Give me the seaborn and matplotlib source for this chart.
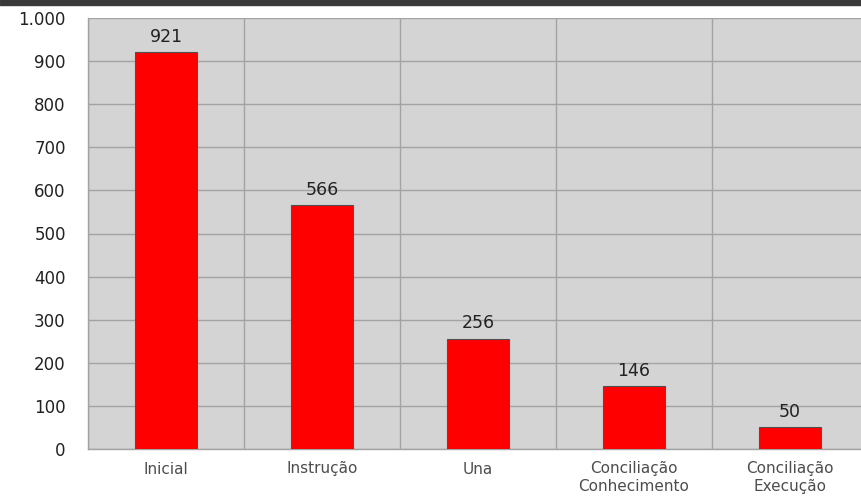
import matplotlib
matplotlib.use("Agg")
import matplotlib.pyplot as plt
import matplotlib.ticker as mticker
import seaborn as sns
import pandas as pd
import numpy as np

categories = ["Inicial", "Instrução", "Una", "Conciliação\nConhecimento", "Conciliação\nExecução"]
values = [921, 566, 256, 146, 50]

df = pd.DataFrame({"fase": categories, "total": values})

sns.set_style("white")
# wide sans face, closer to the stretched lettering of the source
plt.rcParams["font.family"] = ["DejaVu Sans"]

fig = plt.figure(figsize=(8.62, 4.97), dpi=100)
# plot area runs slightly past the right edge, like the source
ax = fig.add_axes([88 / 862, 1 - 449 / 497, 780 / 862, 431 / 497])
ax.set_facecolor("#d4d4d4")

sns.barplot(data=df, x="fase", y="total", color="#ff0000", width=0.4,
            edgecolor="#505050", linewidth=0.8, saturation=1, ax=ax, zorder=3)

ax.set_xlim(-0.5, len(categories) - 0.5)
ax.set_ylim(0, 1000)
ax.yaxis.set_major_locator(mticker.MultipleLocator(100))
ax.yaxis.set_major_formatter(mticker.FuncFormatter(lambda v, p: f"{int(v):,}".replace(",", ".")))

# vertical grid at category boundaries
ax.xaxis.set_minor_locator(mticker.FixedLocator(np.arange(-0.5, len(categories), 1)))
ax.grid(axis="y", which="major", color="#a3a3a3", linewidth=1.0, zorder=0)
ax.grid(axis="x", which="minor", color="#a3a3a3", linewidth=1.0, zorder=0)
ax.tick_params(axis="x", which="major", length=0, labelsize=11, labelcolor="#4d4d4d", pad=9)
ax.tick_params(axis="x", which="minor", length=5, color="#a3a3a3", width=1.0)
ax.tick_params(axis="y", length=6, color="#a3a3a3", width=1.0, labelsize=12,
               labelcolor="#222222", pad=10)

for s in ["top", "right"]:
    ax.spines[s].set_visible(False)
for s in ["left", "bottom"]:
    ax.spines[s].set_color("#a3a3a3")
    ax.spines[s].set_linewidth(1.0)

ax.set_xlabel("")
ax.set_ylabel("")

for i, v in enumerate(values):
    ax.annotate(str(v), (i, v), xytext=(0, 4.5), textcoords="offset points",
                ha="center", va="bottom", fontsize=12.5, color="#222222")

# dark strip along the top of the picture
fig.patches.append(plt.Rectangle((0, 1 - 5 / 497), 1, 5 / 497, transform=fig.transFigure,
                                 color="#3a3a3a", zorder=10))

fig.savefig("out.png", dpi=100)
